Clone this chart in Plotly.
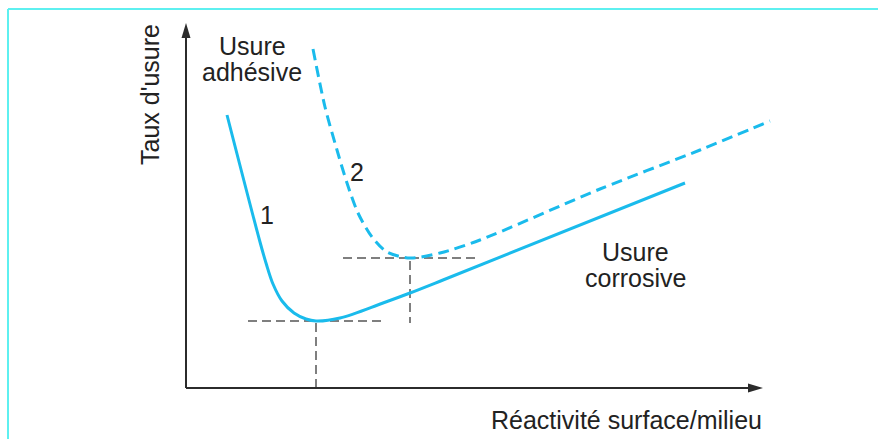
import plotly.graph_objects as go

# ===== DATA (schematic units, origin at the axes corner) =====
curve1_x = [41, 74, 80, 87, 96, 108, 120, 130, 154, 197, 224, 257, 499]
curve1_y = [273, 146, 125, 104, 87, 75, 69, 67, 70, 85, 95, 108, 205]

curve2_x = [127, 139, 151, 161, 172, 186, 201, 224, 254, 294, 414, 514, 584]
curve2_y = [339, 281, 238, 205, 175, 151, 136, 130, 135, 148, 199, 238, 267]

# guide lines marking the two minima
guide1_x = [62, 130, 130]
guide1_y = [67, 67, 0]
guide1_hx = [130, 197]
guide2_x = [157, 224, 224]
guide2_y = [130, 130, 65]
guide2_hx = [224, 292]

# ===== STYLE =====
CYAN = '#1ABBEC'
GUIDE = '#555555'
AXIS = '#2B2B2B'
TEXT = '#222222'
BORDER = '#5EF0F0'
FONT = 'Liberation Sans, Arial, sans-serif'
FS = 25
GUIDE_LINE = dict(color=GUIDE, width=1.5, dash='9px,5px')

fig = go.Figure()

fig.add_trace(go.Scatter(x=guide1_x, y=guide1_y, mode='lines', line=GUIDE_LINE))
fig.add_trace(go.Scatter(x=guide1_hx, y=[guide1_y[0]] * 2, mode='lines', line=GUIDE_LINE))
fig.add_trace(go.Scatter(x=guide2_x, y=guide2_y, mode='lines', line=GUIDE_LINE))
fig.add_trace(go.Scatter(x=guide2_hx, y=[guide2_y[0]] * 2, mode='lines', line=GUIDE_LINE))

fig.add_trace(go.Scatter(x=curve1_x, y=curve1_y, mode='lines',
                         line=dict(color=CYAN, width=3, shape='spline', smoothing=1.0)))
fig.add_trace(go.Scatter(x=curve2_x, y=curve2_y, mode='lines',
                         line=dict(color=CYAN, width=3, shape='spline', smoothing=0.8,
                                   dash='11px,6px')))

# axes with arrowheads
shapes = [
    dict(type='line', x0=0, y0=0, x1=568, y1=0, line=dict(color=AXIS, width=2)),
    dict(type='line', x0=0, y0=0, x1=0, y1=356, line=dict(color=AXIS, width=2)),
    dict(type='path', path='M 577 0 L 562 4.5 L 562 -4.5 Z',
         fillcolor=AXIS, line=dict(width=0)),
    dict(type='path', path='M 0 365 L -4.5 350 L 4.5 350 Z',
         fillcolor=AXIS, line=dict(width=0)),
    # frame border (top and left only visible)
    dict(type='line', xref='paper', yref='paper', x0=8 / 878, y0=1 - 9 / 439,
         x1=1.01, y1=1 - 9 / 439, line=dict(color=BORDER, width=2)),
    dict(type='line', xref='paper', yref='paper', x0=8 / 878, y0=1 - 9 / 439,
         x1=8 / 878, y1=-0.01, line=dict(color=BORDER, width=2)),
]

labels = [
    ('Usure', 66, 342.5, 0),
    ('adhésive', 66, 316.5, 0),
    ('Usure', 449, 136, 0),
    ('corrosive', 449, 110, 0),
    ('1', 81, 173, 0),
    ('2', 171, 216, 0),
    ("Taux d'usure", -36, 293, -90),
    ('Réactivité surface/milieu', 440, -31.5, 0),
]
annotations = [dict(text=t, x=x, y=y, textangle=a, showarrow=False,
                    xanchor='center', yanchor='middle',
                    font=dict(family=FONT, size=FS, color=TEXT))
               for t, x, y, a in labels]

fig.update_layout(
    width=878, height=439,
    margin=dict(l=0, r=0, t=0, b=0),
    paper_bgcolor='white', plot_bgcolor='white',
    showlegend=False,
    shapes=shapes, annotations=annotations,
    xaxis=dict(range=[-186, 692], visible=False, fixedrange=True),
    yaxis=dict(range=[-51, 388], visible=False, fixedrange=True),
)

fig.write_html('out.html', config={'displayModeBar': False},
               post_script="document.body.style.margin='0';")
